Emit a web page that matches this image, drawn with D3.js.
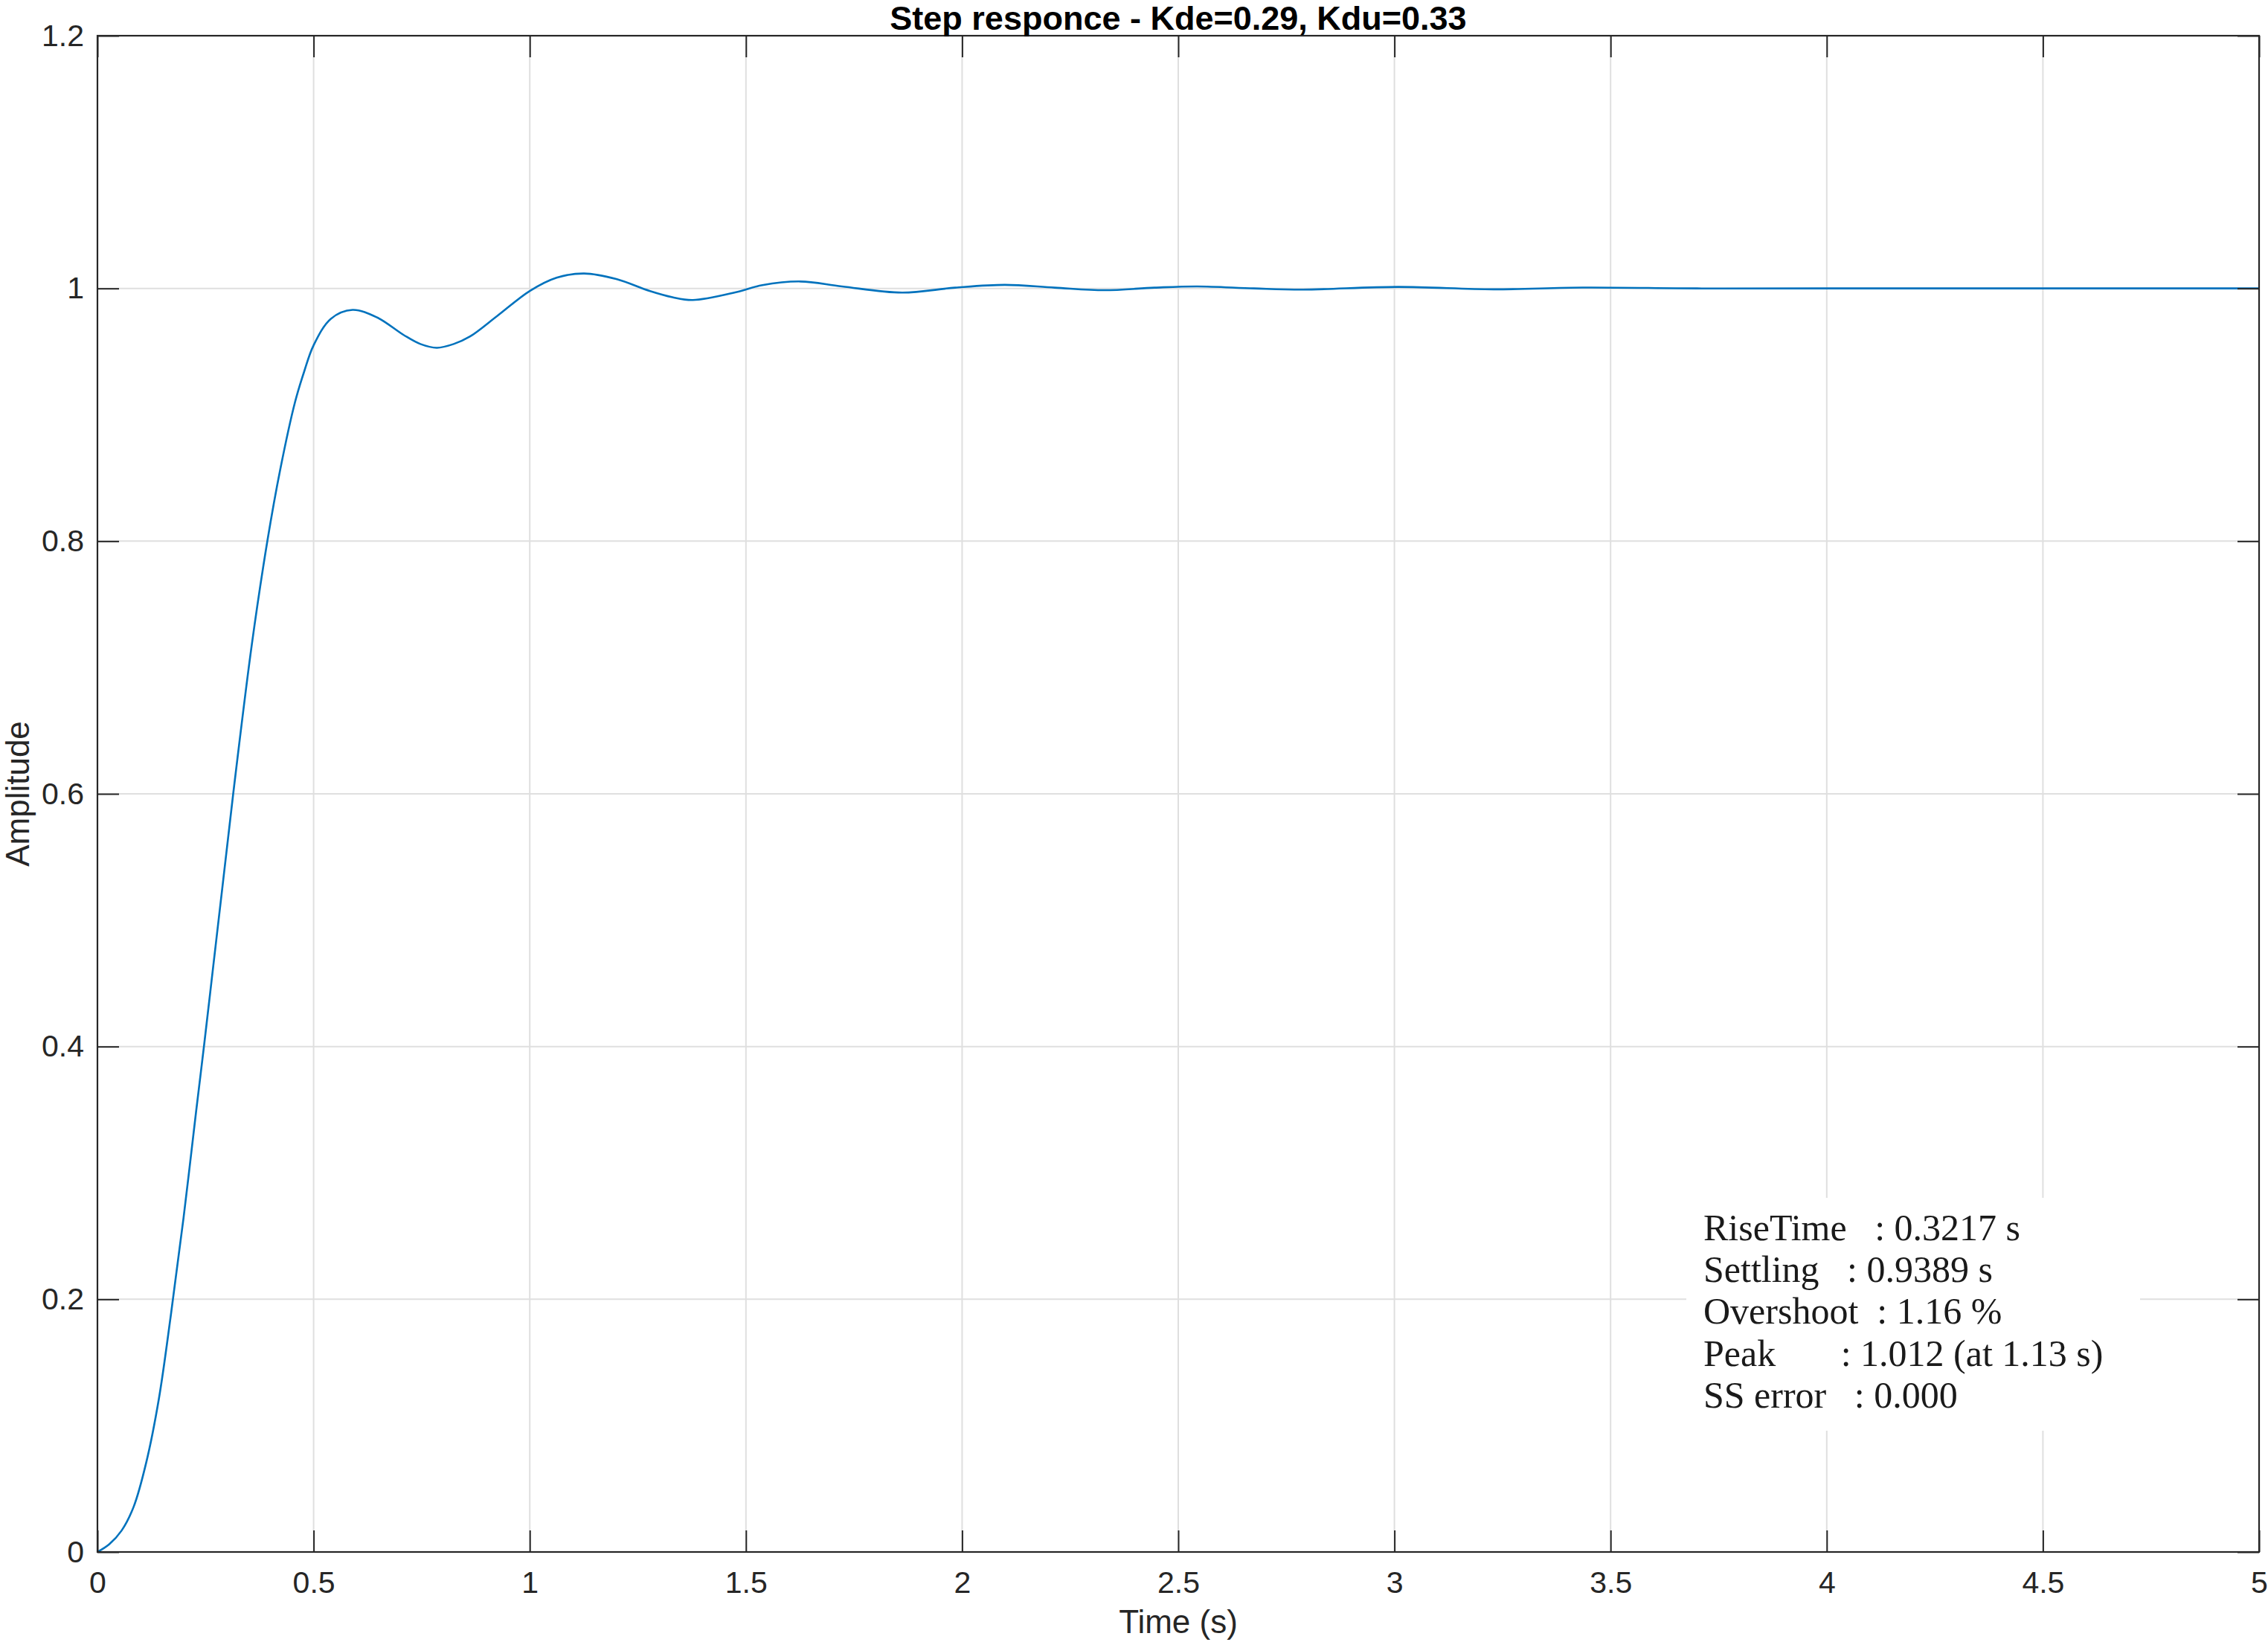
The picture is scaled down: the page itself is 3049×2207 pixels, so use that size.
<!DOCTYPE html>
<html>
<head>
<meta charset="utf-8">
<script src="https://cdn.jsdelivr.net/npm/d3@7"></script>
<style>
  html, body { margin: 0; padding: 0; background: #ffffff; }
  svg { display: block; }
</style>
</head>
<body>
<div id="chart"></div>
<script>
// ---------------- data ----------------
const timeValues = [
  0, 0.027, 0.056, 0.084, 0.113, 0.142, 0.170, 0.199, 0.228, 0.247,
  0.268, 0.289, 0.314, 0.357, 0.393, 0.423, 0.457, 0.478, 0.500, 0.540,
  0.590, 0.647, 0.709, 0.747, 0.785, 0.824, 0.862, 0.924, 1.000, 1.062,
  1.126, 1.200, 1.277, 1.330, 1.377, 1.477, 1.538, 1.626, 1.722, 1.861,
  1.984, 2.099, 2.214, 2.329, 2.445, 2.544, 2.675, 2.788, 3.008, 3.229,
  3.435, 3.700, 4.000, 4.500, 5.000
];
const amplitudeValues = [
  0, 0.006, 0.017, 0.036, 0.071, 0.121, 0.188, 0.264, 0.348, 0.402,
  0.464, 0.526, 0.600, 0.718, 0.800, 0.857, 0.910, 0.934, 0.955, 0.976,
  0.983, 0.977, 0.963, 0.956, 0.953, 0.956, 0.962, 0.978, 0.998, 1.0085,
  1.0118, 1.0074, 0.998, 0.9930, 0.9908, 0.9970, 1.0026, 1.0055, 1.0016, 0.9967,
  1.0006, 1.0028, 1.0006, 0.9986, 1.0006, 1.0016, 1.0000, 0.9991, 1.0012, 0.9993,
  1.0007, 1.0000, 1.0000, 1.0000, 1.0000
];
const xTicks = [0, 0.5, 1, 1.5, 2, 2.5, 3, 3.5, 4, 4.5, 5];
const xTickLabels = ["0", "0.5", "1", "1.5", "2", "2.5", "3", "3.5", "4", "4.5", "5"];
const yTicks = [0, 0.2, 0.4, 0.6, 0.8, 1, 1.2];
const yTickLabels = ["0", "0.2", "0.4", "0.6", "0.8", "1", "1.2"];
const titleText = "Step responce - Kde=0.29, Kdu=0.33";
const xLabelText = "Time (s)";
const yLabelText = "Amplitude";
const statsLabels = ["RiseTime", "Settling", "Overshoot", "Peak", "SS error"];
const statsValues = ["0.3217 s", "0.9389 s", "1.16 %", "1.012 (at 1.13 s)", "0.000"];

// ---------------- layout ----------------
const W = 3049, H = 2207;
const plot = { left: 131, right: 3037, top: 48, bottom: 2086 };
const axisColor = "#262626";
const gridColor = "#dfdfdf";
const lineColor = "#0072bd";
const tickLen = 29;

const svg = d3.select("#chart").append("svg")
  .attr("width", W).attr("height", H)
  .attr("viewBox", `0 0 ${W} ${H}`);

svg.append("rect").attr("width", W).attr("height", H).attr("fill", "#ffffff");

const x = d3.scaleLinear().domain([0, 5]).range([plot.left, plot.right]);
const y = d3.scaleLinear().domain([0, 1.2]).range([plot.bottom, plot.top]);

// grid
const grid = svg.append("g").attr("class", "grid");
grid.selectAll("line.vx").data(xTicks.slice(1, -1)).join("line")
  .attr("x1", d => x(d)).attr("x2", d => x(d))
  .attr("y1", plot.top).attr("y2", plot.bottom)
  .attr("stroke", gridColor).attr("stroke-width", 2);
grid.selectAll("line.hy").data(yTicks.slice(1, -1)).join("line")
  .attr("x1", plot.left).attr("x2", plot.right)
  .attr("y1", d => y(d)).attr("y2", d => y(d))
  .attr("stroke", gridColor).attr("stroke-width", 2);

// data line
const data = timeValues.map((t, i) => ({ t, a: amplitudeValues[i] }));
const line = d3.line().x(d => x(d.t)).y(d => y(d.a)).curve(d3.curveCatmullRom.alpha(0.5));
svg.append("path").datum(data)
  .attr("d", line)
  .attr("fill", "none")
  .attr("stroke", lineColor)
  .attr("stroke-width", 2.6)
  .attr("stroke-linejoin", "round");

// stats annotation box
const box = { x: 2267, y: 1610, w: 610, h: 313 };
svg.append("rect")
  .attr("x", box.x).attr("y", box.y).attr("width", box.w).attr("height", box.h)
  .attr("fill", "#ffffff");
const statsG = svg.append("g")
  .attr("font-family", "'Liberation Serif', 'Times New Roman', serif")
  .attr("font-size", 50)
  .attr("fill", "#1a1a1a");
statsG.selectAll("text").data(statsLabels).join("text")
  .attr("x", 2290)
  .attr("y", (d, i) => 1667 + i * 56.2)
  .attr("xml:space", "preserve")
  .style("white-space", "pre")
  .text((d, i) => d.padEnd(11, " ") + ": " + statsValues[i]);

// axes (ticks inward)
const fmtX = (d) => xTickLabels[xTicks.indexOf(d)];
const fmtY = (d) => yTickLabels[yTicks.indexOf(d)];

const gx = svg.append("g").attr("transform", `translate(0,${plot.bottom})`)
  .call(d3.axisBottom(x).tickValues(xTicks).tickFormat(fmtX).tickSize(-tickLen).tickPadding(26));
const gy = svg.append("g").attr("transform", `translate(${plot.left},0)`)
  .call(d3.axisLeft(y).tickValues(yTicks).tickFormat(fmtY).tickSize(-tickLen).tickPadding(18));
const gxt = svg.append("g").attr("transform", `translate(0,${plot.top})`)
  .call(d3.axisTop(x).tickValues(xTicks).tickFormat("").tickSize(-tickLen));
const gyr = svg.append("g").attr("transform", `translate(${plot.right},0)`)
  .call(d3.axisRight(y).tickValues(yTicks).tickFormat("").tickSize(-tickLen));

[gx, gy, gxt, gyr].forEach(g => {
  g.select(".domain").remove();
  g.selectAll(".tick line").attr("stroke", axisColor).attr("stroke-width", 2);
  g.selectAll(".tick text")
    .attr("fill", axisColor)
    .attr("font-family", "'Liberation Sans', Arial, Helvetica, sans-serif")
    .attr("font-size", 41);
  g.attr("font-family", null).attr("font-size", null);
});

// box frame
svg.append("rect")
  .attr("x", plot.left).attr("y", plot.top)
  .attr("width", plot.right - plot.left).attr("height", plot.bottom - plot.top)
  .attr("fill", "none").attr("stroke", axisColor).attr("stroke-width", 2.2);

// labels
svg.append("text")
  .attr("x", (plot.left + plot.right) / 2).attr("y", 2195)
  .attr("text-anchor", "middle")
  .attr("font-family", "'Liberation Sans', Arial, Helvetica, sans-serif")
  .attr("font-size", 44).attr("fill", axisColor)
  .text(xLabelText);

svg.append("text")
  .attr("transform", `translate(39,${(plot.top + plot.bottom) / 2}) rotate(-90)`)
  .attr("text-anchor", "middle")
  .attr("font-family", "'Liberation Sans', Arial, Helvetica, sans-serif")
  .attr("font-size", 44).attr("fill", axisColor)
  .text(yLabelText);

svg.append("text")
  .attr("x", (plot.left + plot.right) / 2).attr("y", 40)
  .attr("text-anchor", "middle")
  .attr("font-family", "'Liberation Sans', Arial, Helvetica, sans-serif")
  .attr("font-weight", "bold")
  .attr("font-size", 45).attr("fill", "#000000")
  .text(titleText);
</script>
</body>
</html>
